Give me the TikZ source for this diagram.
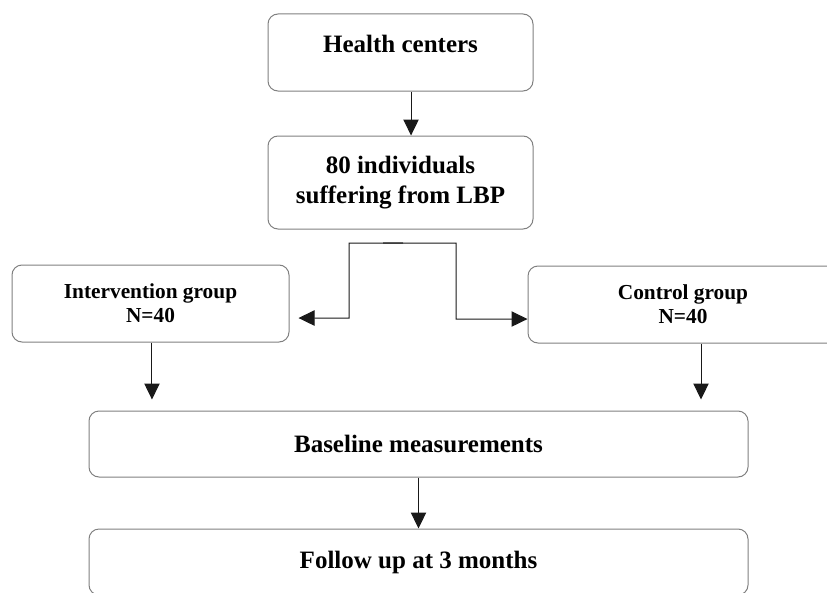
\documentclass[tikz,border=0pt]{standalone}
\usepackage{fontspec}
\setmainfont{Liberation Serif}
\usepackage{tikz}
\usetikzlibrary{arrows.meta,positioning}

\begin{document}
\begin{tikzpicture}[
  x=0.75pt, y=-0.75pt,
  box/.style={draw=black!50, rounded corners=7.5pt, line width=0.75pt, align=center,
              inner sep=0pt, font=\bfseries\fontsize{18.75pt}{22.5pt}\selectfont},
  grp/.style={box, minimum height=57.75pt, font=\bfseries\fontsize{16pt}{18pt}\selectfont},
  arr/.style={-{Triangle[length=12pt, width=11.5pt]}, line width=0.75pt, black!90}
]
\useasboundingbox (0,0) rectangle (827,592);
\clip (0,0) rectangle (827,592);

\node[box, minimum width=198.75pt, minimum height=57.75pt, text height=13pt, text depth=13pt]
  (hc) at (400.5,52.5) {Health centers};
\node[box, minimum width=198.75pt, minimum height=69.75pt, below=33pt of hc]
  (ind) {80 individuals\\suffering from LBP};
\node[grp, minimum width=207.75pt] (intv) at (150.5,303.5) {Intervention group\\N=40};
\node[grp, minimum width=232.5pt] (ctrl) at (683,304.5) {Control group\\N=40};
\node[box, minimum width=494.25pt, minimum height=49.5pt] (base) at (418.5,444) {Baseline measurements};
\node[box, minimum width=494.25pt, minimum height=49.5pt, below=38.25pt of base] (fol) {Follow up at 3 months};

\coordinate (split) at (403,243);

\draw[arr] ([xshift=7.9pt]hc.south) -- ([xshift=7.9pt]ind.north);
\draw[black!50, line width=1.5pt] ([xshift=-15pt]split) -- (split);
\draw[arr, shorten >=6.75pt] (split) -| (349,318) -- ([yshift=-10.9pt]intv.east);
\draw[arr] (split) -| (456,319) -- ([yshift=-10.9pt]ctrl.west);
\draw[arr, shorten >=8.25pt] ([xshift=1.1pt]intv.south) -- ([xshift=1.1pt]intv.south |- base.north);
\draw[arr, shorten >=8.25pt] ([xshift=13.5pt]ctrl.south) -- ([xshift=13.5pt]ctrl.south |- base.north);
\draw[arr] (base) -- (fol);
\end{tikzpicture}
\end{document}
